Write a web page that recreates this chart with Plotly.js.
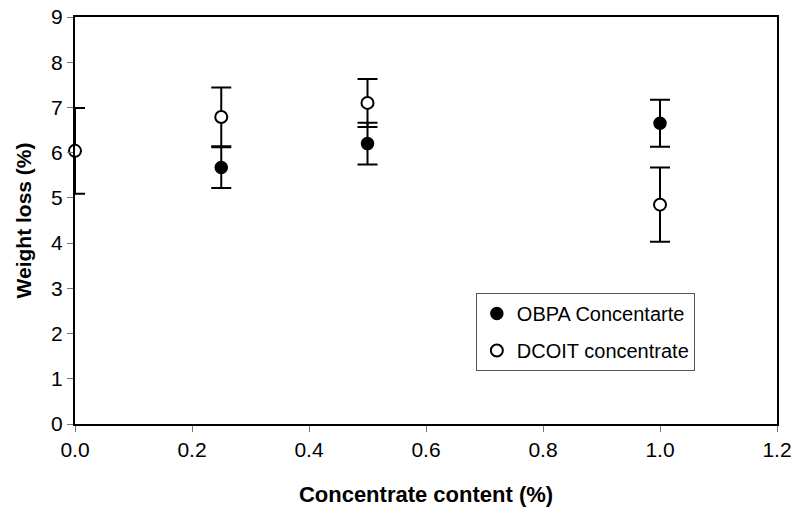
<!DOCTYPE html>
<html>
<head>
<meta charset="utf-8">
<script src="https://cdn.plot.ly/plotly-3.0.1.min.js"></script>
<style>html,body{margin:0;padding:0;background:#fff;}#chart{width:794px;height:517px;}</style>
</head>
<body>
<div id="chart"></div>
<script>
// Data
const obpaX = [0.25, 0.5, 1.0];
const obpaY = [5.67, 6.20, 6.65];
const obpaErr = [0.45, 0.46, 0.52];

const dcoitX = [0.0, 0.25, 0.5, 1.0];
const dcoitY = [6.04, 6.79, 7.10, 4.85];
const dcoitErr = [0.95, 0.65, 0.53, 0.82];

const xTickVals = [0, 0.2, 0.4, 0.6, 0.8, 1.0, 1.2];
const xTickText = ['0.0', '0.2', '0.4', '0.6', '0.8', '1.0', '1.2'];
const yTickVals = [0, 1, 2, 3, 4, 5, 6, 7, 8, 9];

const FONT = 'Liberation Sans, Arial, sans-serif';

const traces = [
  {
    x: obpaX, y: obpaY, type: 'scatter', mode: 'markers',
    name: 'OBPA Concentarte', legendgroup: 'a',
    marker: {symbol: 'circle', size: 12, color: '#000', line: {color: '#000', width: 1.5}},
    error_y: {type: 'data', array: obpaErr, visible: true, color: '#000', thickness: 2, width: 10},
    cliponaxis: false
  },
  {
    x: dcoitX, y: dcoitY, type: 'scatter', mode: 'markers',
    name: 'DCOIT concentrate', legendgroup: 'b',
    marker: {symbol: 'circle', size: 12, color: '#fff', line: {color: '#000', width: 2}},
    error_y: {type: 'data', array: dcoitErr, visible: true, color: '#000', thickness: 2, width: 10},
    cliponaxis: false
  }
];

const layout = {
  width: 794, height: 517,
  margin: {l: 75, r: 17, t: 17, b: 93},
  paper_bgcolor: '#fff', plot_bgcolor: '#fff',
  font: {family: FONT, size: 21, color: '#000'},
  showlegend: true,
  legend: {
    x: 0.571, y: 0.322, xanchor: 'left', yanchor: 'top',
    bgcolor: '#fff', bordercolor: '#555', borderwidth: 1,
    font: {family: FONT, size: 20, color: '#000'},
    itemwidth: 30, tracegroupgap: 8
  },
  xaxis: {
    range: [0, 1.2], tickmode: 'array', tickvals: xTickVals, ticktext: xTickText,
    showgrid: false, zeroline: false,
    showline: true, linecolor: '#000', linewidth: 2, mirror: true,
    ticks: 'outside', ticklen: 6, tickwidth: 1, tickcolor: '#777',
    tickfont: {family: FONT, size: 21, color: '#000'},
    title: {text: '<b>Concentrate content (%)</b>', font: {family: FONT, size: 22, color: '#000'}, standoff: 26}
  },
  yaxis: {
    range: [0, 9], tickmode: 'array', tickvals: yTickVals,
    showgrid: false, zeroline: false,
    showline: true, linecolor: '#000', linewidth: 2, mirror: true,
    ticks: 'outside', ticklen: 6, tickwidth: 1, tickcolor: '#777',
    tickfont: {family: FONT, size: 21, color: '#000'},
    title: {text: '<b>Weight loss (%)</b>', font: {family: FONT, size: 21, color: '#000'}, standoff: 14}
  }
};

Plotly.newPlot('chart', traces, layout, {displayModeBar: false, staticPlot: true});
</script>
</body>
</html>
